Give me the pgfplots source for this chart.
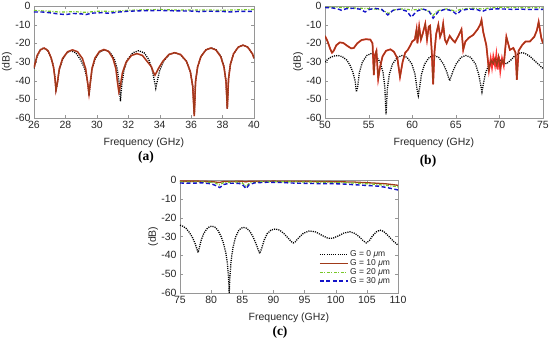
\documentclass[border=0pt]{standalone}
\usepackage{pgfplots}
\pgfplotsset{compat=1.18}
\usepackage{fontspec}
\setmainfont{Liberation Sans}
\newfontfamily\seriffont{Liberation Serif}
\definecolor{gzero}{rgb}{0,0,0}
\definecolor{gten}{RGB}{160,58,25}
\definecolor{gtwenty}{RGB}{120,200,40}
\definecolor{gthirty}{RGB}{20,20,200}
\definecolor{axgray}{RGB}{150,150,150}
\pgfplotsset{
  panel/.style={
    scale only axis, width=219pt, height=112pt,
    ymin=-60, ymax=0, ytick={-60,-50,-40,-30,-20,-10,0},
    axis line style={axgray}, tick style={axgray, major tick length=3pt},
    tick label style={font=\fontsize{10.5}{12}\selectfont, text=black!85},
    label style={font=\fontsize{10.5}{12}\selectfont, text=black!85},
    /pgf/number format/assume math mode=true,
    xlabel={Frequency (GHz)}, ylabel={(dB)},
    xlabel shift=2pt,
    ylabel style={at={(axis description cs:-0.085,0.5)}, anchor=south, rotate=0},
    legend image code/.code={\draw[#1] (0pt,0pt) -- (28pt,0pt);},
  },
  gzs/.style={gzero, line width=1.3pt, dash pattern=on 1.1pt off 1.1pt},
  gts/.style={gten, line width=1.3pt},
  gws/.style={gtwenty, line width=1.2pt, dash pattern=on 3pt off 1.5pt on 1pt off 1.5pt},
  gbs/.style={gthirty, line width=1.4pt, dash pattern=on 4pt off 2.5pt},
}
\begin{document}
\begin{tikzpicture}
\path[use as bounding box] (0pt,0pt) rectangle (550pt,-345pt);
% ---------------- (a) ----------------
\begin{axis}[panel, at={(34pt,-118pt)}, anchor=south west, width=220pt,
  xmin=26, xmax=40, xtick={26,28,...,40}]
\addplot[gzs] coordinates {(26.0,-33.5)(26.2,-27)(26.4,-23.5)(26.6,-22.5)(26.85,-23.5)(27.05,-27)(27.2,-31)(27.32,-37)(27.4,-45)
(27.48,-42)(27.61,-34.2)(27.82,-28.6)(28.1,-25)(28.35,-24)(28.65,-25)(28.95,-28.6)(29.2,-33)(29.35,-38)(29.45,-43)(29.5,-48)
(29.58,-41.5)(29.7,-33.7)(29.9,-28.1)(30.2,-24.5)(30.5,-23.5)(30.8,-24.5)(31.1,-28.1)(31.3,-33.7)(31.42,-41.5)(31.5,-51)
(31.59,-42)(31.73,-34.2)(31.95,-28.6)(32.3,-25)(32.65,-24)(33.0,-25)(33.3,-28.6)(33.52,-34.2)(33.66,-40)(33.75,-44)
(33.85,-40)(34.0,-34.5)(34.24,-29.6)(34.6,-26)(34.95,-25)(35.3,-26)(35.7,-29.6)(35.95,-35.2)(36.1,-43)(36.2,-58)
(36.28,-40.5)(36.41,-32.7)(36.62,-27.1)(36.94,-23.5)(37.3,-22.5)(37.6,-23.5)(37.9,-27.1)(38.1,-32.7)(38.22,-40.5)(38.3,-55)
(38.38,-39)(38.5,-31.2)(38.7,-25.6)(39.0,-22)(39.3,-21)(39.6,-22)(39.9,-25.6)(40,-28)};
\addplot[red, line width=1.6pt, opacity=0.5, forget plot] coordinates {(26.0,-33)(26.2,-26.5)(26.4,-23.5)(26.65,-22.5)(26.9,-24)(27.1,-28)(27.25,-33)(27.35,-40)(27.4,-45)
(27.48,-41.5)(27.61,-33.7)(27.82,-28.1)(28.14,-24.5)(28.45,-23.5)(28.77,-24.5)(29.08,-28.1)(29.29,-33.7)(29.42,-41.5)(29.5,-47)
(29.58,-41.3)(29.69,-33.5)(29.88,-27.9)(30.17,-24.3)(30.45,-23.3)(30.74,-24.3)(31.02,-27.9)(31.21,-33.5)(31.32,-41.3)(31.4,-46)
(31.49,-43)(31.63,-35.7)(31.86,-30.1)(32.2,-26.5)(32.55,-25.5)(32.9,-26.5)(33.24,-30.1)(33.47,-32.5)(33.6,-35.5)(33.7,-37)
(33.8,-35.5)(33.95,-33)(34.2,-29.6)(34.58,-26)(34.95,-25)(35.33,-26)(35.7,-29.6)(35.95,-35.2)(36.1,-43)(36.2,-59)
(36.28,-40.5)(36.41,-32.7)(36.62,-27.1)(36.94,-23.5)(37.25,-22.5)(37.57,-23.5)(37.88,-27.1)(38.09,-32.7)(38.22,-40.5)(38.3,-55)
(38.38,-39)(38.5,-31.2)(38.7,-25.6)(39.0,-22)(39.3,-21)(39.6,-22)(39.9,-25.6)(40,-28)};
\addplot[gts] coordinates {(26.0,-33)(26.2,-26.5)(26.4,-23.5)(26.65,-22.5)(26.9,-24)(27.1,-28)(27.25,-33)(27.35,-40)(27.4,-45)
(27.48,-41.5)(27.61,-33.7)(27.82,-28.1)(28.14,-24.5)(28.45,-23.5)(28.77,-24.5)(29.08,-28.1)(29.29,-33.7)(29.42,-41.5)(29.5,-47)
(29.58,-41.3)(29.69,-33.5)(29.88,-27.9)(30.17,-24.3)(30.45,-23.3)(30.74,-24.3)(31.02,-27.9)(31.21,-33.5)(31.32,-41.3)(31.4,-46)
(31.49,-43)(31.63,-35.7)(31.86,-30.1)(32.2,-26.5)(32.55,-25.5)(32.9,-26.5)(33.24,-30.1)(33.47,-32.5)(33.6,-35.5)(33.7,-37)
(33.8,-35.5)(33.95,-33)(34.2,-29.6)(34.58,-26)(34.95,-25)(35.33,-26)(35.7,-29.6)(35.95,-35.2)(36.1,-43)(36.2,-59)
(36.28,-40.5)(36.41,-32.7)(36.62,-27.1)(36.94,-23.5)(37.25,-22.5)(37.57,-23.5)(37.88,-27.1)(38.09,-32.7)(38.22,-40.5)(38.3,-55)
(38.38,-39)(38.5,-31.2)(38.7,-25.6)(39.0,-22)(39.3,-21)(39.6,-22)(39.9,-25.6)(40,-28)};
\addplot[gws] coordinates {(26,-2.4)(27,-2.8)(27.7,-3.3)(28.5,-3.0)(29.3,-3.4)(30,-2.8)(31,-2.9)(32,-2.3)(33,-2.0)(34,-1.9)(35,-2.1)(36,-2.2)(37,-2.1)(38,-2.3)(39,-2.0)(40,-1.9)};
\addplot[gbs] coordinates {(26,-3.2)(26.5,-3.2)(27,-3.6)(27.5,-4.2)(28,-4.6)(28.5,-4.0)(29,-4.2)(29.3,-4.6)(29.7,-3.8)(30.3,-3.6)(30.8,-3.9)(31.3,-3.3)(32,-2.8)(33,-2.5)(34,-2.4)(35,-2.6)(36,-2.7)(36.5,-3.0)(37,-2.8)(38,-2.9)(38.5,-3.2)(39,-2.9)(40,-2.9)};
\end{axis}
% ---------------- (b) ----------------
\begin{axis}[panel, at={(325pt,-118pt)}, anchor=south west, width=218pt,
  xmin=50, xmax=75, xtick={50,55,...,75}]
\addplot[gzs] coordinates {(50.0,-30)(50.5,-27.8)(51.0,-26.8)(51.5,-26.5)(52.0,-27.2)(52.5,-29)(52.9,-32)(53.2,-35.5)(53.45,-40)(53.6,-46)
(53.74,-43.5)(53.94,-35.7)(54.28,-30.1)(54.79,-26.5)(55.3,-25.5)(55.81,-26.5)(56.32,-30.1)(56.66,-35.7)(56.86,-43.5)(57.0,-58)
(57.15,-44.5)(57.37,-36.7)(57.74,-31.1)(58.3,-27.5)(58.85,-26.5)(59.4,-27.5)(59.96,-31.1)(60.33,-36.7)(60.55,-44.5)(60.7,-48)
(60.84,-44)(61.06,-36.7)(61.42,-31.1)(61.96,-27.5)(62.5,-26.5)(63.04,-27.5)(63.58,-31.1)(63.94,-35)(64.15,-38)(64.3,-40)
(64.45,-38)(64.67,-35)(65.04,-31.1)(65.6,-27.5)(66.15,-26.5)(66.7,-27.5)(67.26,-31.1)(67.63,-36.7)(67.85,-42)(68.0,-46)
(68.15,-42)(68.4,-36)(68.8,-31.5)(69.3,-29)(69.8,-28.5)(70.3,-29.5)(70.8,-31)(71.3,-29)(71.8,-26.5)(72.4,-25)(72.9,-25.3)(73.5,-27)(74.2,-30)(75,-33.5)};
\addplot[red, line width=1.7pt, opacity=0.8, forget plot] coordinates {(50.0,-16)(50.3,-19)(50.6,-23)(50.8,-25)(51.0,-24)(51.3,-21)(51.7,-19.5)(52.1,-19.8)(52.6,-21.5)(53.0,-22.7)(53.3,-22.5)(53.7,-20)(54.2,-18.2)(54.7,-17.8)(55.2,-18)(55.45,-20)(55.6,-37)(55.75,-26)(55.9,-24)(56.1,-39)(56.3,-33)(56.6,-27)(57.0,-24)(57.5,-23.2)(57.9,-24.5)(58.3,-28)(58.6,-38)(58.9,-30)(59.2,-25)(59.5,-23.5)(59.8,-21)(60.0,-19)(60.3,-18)(60.5,-12.5)(60.6,-20)(60.8,-11)(61.0,-18)(61.2,-15)(61.5,-9.5)(61.7,-18)(61.9,-11)(62.05,-10.5)(62.25,-25)(62.4,-42)(62.55,-25)(62.75,-15)(63.0,-10)(63.2,-16.5)(63.4,-14)(63.55,-9.5)(63.75,-18)(63.95,-20)(64.3,-16)(64.6,-18)(64.9,-19.5)(65.3,-16)(65.65,-12.5)(65.85,-23.5)(66.1,-19)(66.5,-17)(67.0,-15.5)(67.5,-12.5)(67.8,-10)(67.95,-7.5)(68.15,-14)(68.5,-21)(68.8,-34.5)(69.0,-28)(69.15,-33)(69.3,-27)(69.5,-32)(69.65,-26)(69.8,-34)(69.95,-27)(70.1,-35)(70.3,-28)(70.5,-32)(70.8,-16.5)(71.2,-23.5)(71.6,-22.5)(71.85,-25)(72.0,-39.5)(72.2,-24)(72.6,-21)(73.0,-19)(73.5,-19)(74.0,-16.5)(74.3,-13)(74.5,-8.5)(74.8,-17)(75.0,-20)};
\addplot[gts] coordinates {(50.0,-16)(50.3,-19)(50.6,-23)(50.8,-25)(51.0,-24)(51.3,-21)(51.7,-19.5)(52.1,-19.8)(52.6,-21.5)(53.0,-22.7)(53.3,-22.5)(53.7,-20)(54.2,-18.2)(54.7,-17.8)(55.2,-18)(55.45,-20)(55.6,-37)(55.75,-26)(55.9,-24)(56.1,-39)(56.3,-33)(56.6,-27)(57.0,-24)(57.5,-23.2)(57.9,-24.5)(58.3,-28)(58.6,-38)(58.9,-30)(59.2,-25)(59.5,-23.5)(59.8,-21)(60.0,-19)(60.3,-18)(60.5,-12.5)(60.6,-20)(60.8,-11)(61.0,-18)(61.2,-15)(61.5,-9.5)(61.7,-18)(61.9,-11)(62.05,-10.5)(62.25,-25)(62.4,-42)(62.55,-25)(62.75,-15)(63.0,-10)(63.2,-16.5)(63.4,-14)(63.55,-9.5)(63.75,-18)(63.95,-20)(64.3,-16)(64.6,-18)(64.9,-19.5)(65.3,-16)(65.65,-12.5)(65.85,-23.5)(66.1,-19)(66.5,-17)(67.0,-15.5)(67.5,-12.5)(67.8,-10)(67.95,-7.5)(68.15,-14)(68.5,-21)(68.8,-34.5)(69.05,-29)(69.3,-31)(69.5,-28)(69.7,-32)(69.9,-27)(70.1,-33)(70.3,-29)(70.5,-31)(70.8,-16.5)(71.2,-23.5)(71.6,-22.5)(71.85,-25)(72.0,-39.5)(72.2,-24)(72.6,-21)(73.0,-19)(73.5,-19)(74.0,-16.5)(74.3,-13)(74.5,-8.5)(74.8,-17)(75.0,-20)};
\addplot[gws] coordinates {(50,-0.6)(52,-0.8)(54,-1.2)(55.5,-1.5)(56.5,-2.0)(57.3,-4.0)(58.0,-2.0)(59,-1.5)(60,-2.2)(61,-1.5)(62.0,-3.0)(62.4,-5.0)(62.9,-2.5)(64,-1.5)(65,-2.8)(65.6,-1.6)(67,-1.2)(68,-1.6)(69,-1.0)(70,-0.7)(72,-0.9)(75,-1.0)};
\addplot[gbs] coordinates {(50,-0.8)(50.8,-1.0)(51.4,-1.5)(51.9,-2.3)(52.4,-1.5)(53.2,-1.2)(54.0,-1.7)(54.6,-3.2)(55.1,-1.8)(55.8,-1.3)(56.5,-1.8)(57.2,-4.8)(57.8,-2.3)(58.6,-1.7)(59.4,-2.8)(59.9,-6.0)(60.5,-2.8)(61.2,-1.6)(61.9,-2.6)(62.4,-6.5)(63.0,-3.0)(63.8,-1.7)(64.6,-2.6)(65.1,-4.5)(65.6,-2.4)(66.5,-1.6)(67.5,-2.0)(68.0,-3.0)(68.5,-2.0)(69.5,-1.5)(70.5,-1.6)(71.5,-1.8)(72.5,-1.7)(73.5,-1.9)(74.5,-1.8)(75,-1.8)};
\end{axis}
% ---------------- (c) ----------------
\begin{axis}[panel, at={(180pt,-293pt)}, anchor=south west, width=218pt, height=113pt,
  xmin=75, xmax=110, xtick={75,80,...,110},
  legend style={at={(0.985,0.04)}, anchor=south east, draw=none, fill=none,
    font=\fontsize{8.5}{10}\selectfont, row sep=-1.5pt,
    nodes={inner sep=1.5pt, text=black!85}},
  legend cell align=left]
\addplot[gzs] coordinates {(75.0,-24.0)(75.5,-24.6)(76.0,-25.8)(76.5,-27.8)(77.0,-30.5)(77.4,-33.5)(77.7,-36.5)(77.9,-38.5)(78.1,-36)(78.4,-32)(78.8,-28.5)(79.3,-26)(79.7,-24.9)(80.1,-24.5)(80.6,-25)(81.1,-26.8)(81.6,-30)(82.0,-33.8)(82.35,-38.5)(82.6,-44)(82.8,-52)(82.9,-60)(83.0,-52)(83.2,-43)(83.5,-36)(83.9,-30.5)(84.4,-27)(84.8,-25.6)(85.2,-25.2)(85.7,-25.6)(86.2,-27.2)(86.7,-30)(87.1,-33)(87.5,-36.5)(87.8,-39)(88.1,-36.5)(88.5,-32)(89.0,-28.5)(89.6,-26.6)(90.3,-26)(91.0,-26.6)(91.7,-28.5)(92.4,-31)(92.9,-32.8)(93.2,-33.4)(93.5,-32.8)(94.1,-30.5)(94.8,-28.3)(95.8,-27)(96.8,-27.6)(97.8,-29.4)(98.6,-30.7)(99.1,-31)(99.6,-30.8)(100.4,-29.7)(101.3,-28.2)(102.3,-27.5)(103.1,-28.4)(103.8,-30.2)(104.4,-32.2)(104.9,-33.4)(105.4,-32.2)(105.9,-29.7)(106.5,-27.6)(107.1,-26.6)(107.7,-27.3)(108.4,-29.5)(109.2,-32.3)(110,-34.6)};
\addlegendentry{G = 0 \textit{μ}m}
\addplot[gts] coordinates {(75,-0.6)(78,-0.6)(80,-0.8)(81.3,-1.3)(82,-0.8)(85,-0.7)(85.6,-1.0)(86,-0.7)(90,-0.6)(95,-0.7)(100,-0.9)(103,-1.1)(106,-1.6)(108,-2.0)(110,-2.8)};
\addlegendentry{G = 10 \textit{μ}m}
\addplot[gws] coordinates {(75,-1.0)(78,-1.0)(80.5,-1.3)(81.3,-2.6)(82,-1.4)(84,-1.0)(85.0,-1.6)(85.6,-3.4)(86.2,-1.5)(88,-0.9)(92,-0.9)(96,-1.1)(100,-1.3)(103,-1.6)(106,-2.2)(108,-2.8)(110,-3.6)};
\addlegendentry{G = 20 \textit{μ}m}
\addplot[gbs] coordinates {(75,-1.6)(77,-1.7)(78.5,-1.5)(80,-2.0)(80.8,-3.0)(81.4,-4.0)(82.0,-2.4)(83,-1.7)(84.5,-1.8)(85.2,-3.0)(85.6,-4.6)(86.1,-2.5)(87,-1.5)(89,-1.2)(91,-1.3)(93,-1.6)(95,-1.8)(97,-1.9)(99,-1.9)(101,-2.1)(103,-2.5)(105,-2.9)(107,-3.3)(108.5,-4.2)(110,-5.3)};
\addlegendentry{G = 30 \textit{μ}m}
\end{axis}
\node[font=\seriffont\bfseries\fontsize{13.5}{15}\selectfont] at (146pt,-157pt) {(a)};
\node[font=\seriffont\bfseries\fontsize{13.5}{15}\selectfont] at (428pt,-161pt) {(b)};
\node[font=\seriffont\bfseries\fontsize{13.5}{15}\selectfont] at (280pt,-332pt) {(c)};
\end{tikzpicture}
\end{document}
